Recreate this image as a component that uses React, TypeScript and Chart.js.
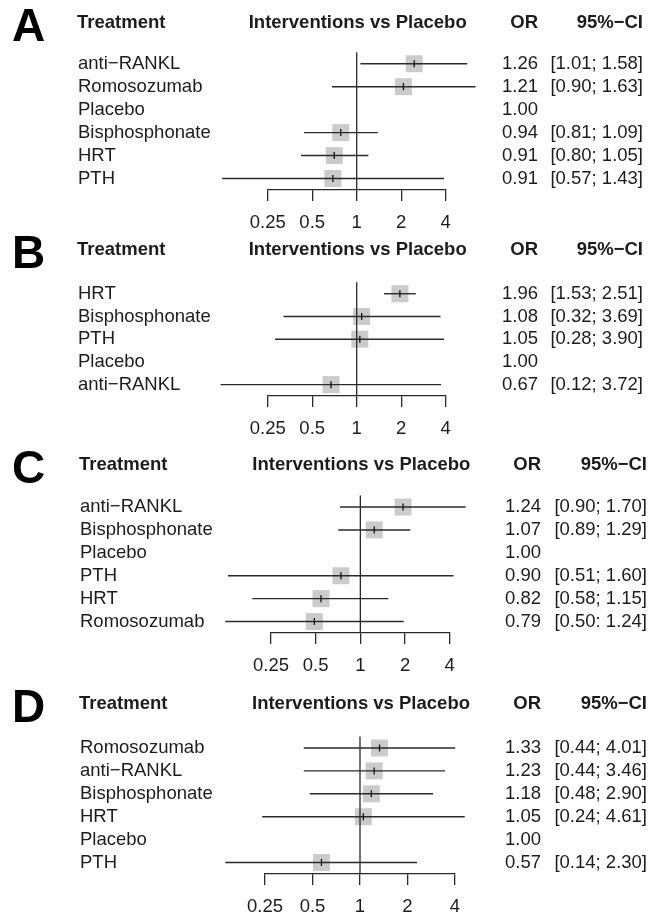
import React, { useEffect, useRef } from 'react';
import { Chart, registerables } from 'chart.js';
Chart.register(...registerables);

// ---------- data ----------
const tickValues = [0.25, 0.5, 1, 2, 4];
const tickLabels = ['0.25', '0.5', '1', '2', '4'];
const panelLetters = ['A', 'B', 'C', 'D'];
const headerTreatment = 'Treatment';
const headerCompare = 'Interventions vs Placebo';
const headerOR = 'OR';
const headerCI = '95%\u2212CI';

// Panel A
const labelsA = ['anti\u2212RANKL', 'Romosozumab', 'Placebo', 'Bisphosphonate', 'HRT', 'PTH'];
const orA = ['1.26', '1.21', '1.00', '0.94', '0.91', '0.91'];
const ciA = ['[1.01; 1.58]', '[0.90; 1.63]', '', '[0.81; 1.09]', '[0.80; 1.05]', '[0.57; 1.43]'];
const estA = [2.45, 2.07, null, 0.78, 0.705, 0.69];
const loA = [1.06, 0.68, null, 0.44, 0.42, 0.123];
const hiA = [5.6, 6.37, null, 1.39, 1.2, 3.9];

// Panel B
const labelsB = ['HRT', 'Bisphosphonate', 'PTH', 'Placebo', 'anti\u2212RANKL'];
const orB = ['1.96', '1.08', '1.05', '1.00', '0.67'];
const ciB = ['[1.53; 2.51]', '[0.32; 3.69]', '[0.28; 3.90]', '', '[0.12; 3.72]'];
const estB = [1.96, 1.08, 1.05, null, 0.67];
const loB = [1.53, 0.32, 0.28, null, 0.12];
const hiB = [2.51, 3.69, 3.9, null, 3.72];

// Panel C
const labelsC = ['anti\u2212RANKL', 'Bisphosphonate', 'Placebo', 'PTH', 'HRT', 'Romosozumab'];
const orC = ['1.24', '1.07', '1.00', '0.90', '0.82', '0.79'];
const ciC = ['[0.90; 1.70]', '[0.89; 1.29]', '', '[0.51; 1.60]', '[0.58; 1.15]', '[0.50: 1.24]'];
const estC = [1.94, 1.24, null, 0.74, 0.543, 0.49];
const loC = [0.73, 0.71, null, 0.128, 0.187, 0.123];
const hiC = [5.12, 2.17, null, 4.25, 1.54, 1.96];

// Panel D
const labelsD = ['Romosozumab', 'anti\u2212RANKL', 'Bisphosphonate', 'HRT', 'Placebo', 'PTH'];
const orD = ['1.33', '1.23', '1.18', '1.05', '1.00', '0.57'];
const ciD = ['[0.44; 4.01]', '[0.44; 3.46]', '[0.48; 2.90]', '[0.24; 4.61]', '', '[0.14; 2.30]'];
const estD = [1.33, 1.23, 1.18, 1.05, null, 0.57];
const loD = [0.44, 0.44, 0.48, 0.24, null, 0.14];
const hiD = [4.01, 3.46, 2.9, 4.61, null, 2.3];

// ---------- layout (page coordinates) ----------
const W = 661;
const AXIS_H = 50;
const FONT = '"Liberation Sans", Arial, Helvetica, sans-serif';
const TEXT = '#1c1c1c';

const panels = [
  { labels: labelsA, or: orA, ci: ciA, est: estA, lo: loA, hi: hiA,
    top: 0, header: 23, row0: 63.7, step: 22.9, left: 267.7, right: 445.7, labelX: 78, orR: 538, ciR: 643 },
  { labels: labelsB, or: orB, ci: ciB, est: estB, lo: loB, hi: hiB,
    top: 226, header: 250, row0: 293.7, step: 22.7, left: 267.7, right: 445.7, labelX: 78, orR: 538, ciR: 643 },
  { labels: labelsC, or: orC, ci: ciC, est: estC, lo: loC, hi: hiC,
    top: 440, header: 465, row0: 507, step: 22.8, left: 271, right: 449.7, labelX: 80, orR: 541, ciR: 647 },
  { labels: labelsD, or: orD, ci: ciD, est: estD, lo: loD, hi: hiD,
    top: 680, header: 704, row0: 748, step: 22.9, left: 265, right: 455, labelX: 80, orR: 541, ciR: 647 },
];

function canvasHeight(p: any) {
  const n = p.labels.length;
  return Math.ceil(p.row0 + (n - 0.5) * p.step - p.top + AXIS_H);
}

function makeConfig(p: any, idx: number) {
  const n = p.labels.length;
  const datasets: any[] = [];
  datasets.push({
    data: [{ x: 1, y: -0.5 }, { x: 1, y: n - 0.5 }],
    showLine: true, borderColor: '#2a2a2a', borderWidth: 1.3, pointRadius: 0, order: 2, clip: false,
  });
  p.est.forEach((e: number | null, i: number) => {
    if (e == null) return;
    datasets.push({
      data: [{ x: p.lo[i], y: i }, { x: p.hi[i], y: i }],
      showLine: true, borderColor: '#2a2a2a', borderWidth: 1.4, pointRadius: 0, order: 2, clip: false,
    });
  });
  const pts = p.est.map((e: number | null, i: number) => (e == null ? null : { x: e, y: i })).filter(Boolean);
  datasets.push({
    data: pts, showLine: false, pointStyle: 'line', pointRotation: 90, pointRadius: 3.5,
    pointBorderColor: '#111', pointBorderWidth: 1.3, order: 1, clip: false,
  });
  datasets.push({
    data: pts, showLine: false, pointStyle: 'rect', pointRadius: 12,
    pointBackgroundColor: '#cbcbcb', pointBorderWidth: 0, order: 3, clip: false,
  });

  const textPlugin = {
    id: 'forestText' + idx,
    afterDraw(chart: any) {
      const ctx = chart.ctx;
      const ys = chart.scales.y;
      const xs = chart.scales.x;
      ctx.save();
      ctx.fillStyle = TEXT;
      ctx.textBaseline = 'middle';
      const hy = p.header - p.top;
      // panel letter
      ctx.font = `bold 46px ${FONT}`;
      ctx.textAlign = 'left';
      ctx.fillStyle = '#000';
      ctx.fillText(panelLetters[idx], 12, hy + 5);
      ctx.fillStyle = TEXT;
      // headers
      ctx.font = `bold 18.5px ${FONT}`;
      ctx.textAlign = 'left';
      ctx.fillText(headerTreatment, p.labelX - 1, hy);
      ctx.textAlign = 'center';
      ctx.fillText(headerCompare, xs.getPixelForValue(1) + 1, hy);
      ctx.textAlign = 'right';
      ctx.fillText(headerOR, p.orR, hy);
      ctx.fillText(headerCI, p.ciR, hy);
      // rows
      ctx.font = `18.5px ${FONT}`;
      p.labels.forEach((lab: string, i: number) => {
        const y = ys.getPixelForValue(i);
        ctx.textAlign = 'left';
        ctx.fillText(lab, p.labelX, y);
        ctx.textAlign = 'right';
        ctx.fillText(p.or[i], p.orR, y);
        if (p.ci[i]) ctx.fillText(p.ci[i], p.ciR, y);
      });
      ctx.restore();
    },
  };

  return {
    type: 'scatter',
    data: { datasets },
    options: {
      animation: false,
      responsive: false,
      devicePixelRatio: 1,
      events: [],
      layout: {
        padding: {
          left: p.left,
          right: W - p.right,
          top: p.row0 - 0.5 * p.step - p.top,
          bottom: 0,
        },
      },
      plugins: { legend: { display: false }, tooltip: { enabled: false }, title: { display: false } },
      scales: {
        x: {
          type: 'logarithmic',
          min: tickValues[0],
          max: tickValues[tickValues.length - 1],
          afterBuildTicks: (s: any) => { s.ticks = tickValues.map((v) => ({ value: v })); },
          afterFit: (s: any) => { s.height = AXIS_H; },
          border: { display: true, color: '#2a2a2a', width: 1.3 },
          grid: { display: true, drawOnChartArea: false, drawTicks: true, tickLength: 11, color: '#2a2a2a', lineWidth: 1.3 },
          ticks: {
            autoSkip: false, maxRotation: 0, minRotation: 0, padding: 11, color: TEXT,
            font: { family: FONT, size: 18.5 },
            callback: (_v: any, i: number) => tickLabels[i],
          },
        },
        y: {
          type: 'linear', display: false, reverse: true, min: -0.5, max: n - 0.5,
        },
      },
    },
    plugins: [textPlugin],
  };
}

export default function App() {
  const refs = [useRef<HTMLCanvasElement>(null), useRef<HTMLCanvasElement>(null), useRef<HTMLCanvasElement>(null), useRef<HTMLCanvasElement>(null)];
  useEffect(() => {
    document.body.style.margin = '0';
    document.body.style.background = '#fff';
    const charts = panels.map((p, i) => new Chart(refs[i].current as HTMLCanvasElement, makeConfig(p, i) as any));
    return () => charts.forEach((c) => c.destroy());
  }, []);
  return (
    <div style={{ position: 'relative', width: W, height: 920, background: '#fff', overflow: 'hidden' }}>
      {panels.map((p, i) => (
        <canvas
          key={i}
          ref={refs[i]}
          width={W}
          height={canvasHeight(p)}
          style={{ position: 'absolute', left: 0, top: p.top, width: W, height: canvasHeight(p) }}
        />
      ))}
    </div>
  );
}
